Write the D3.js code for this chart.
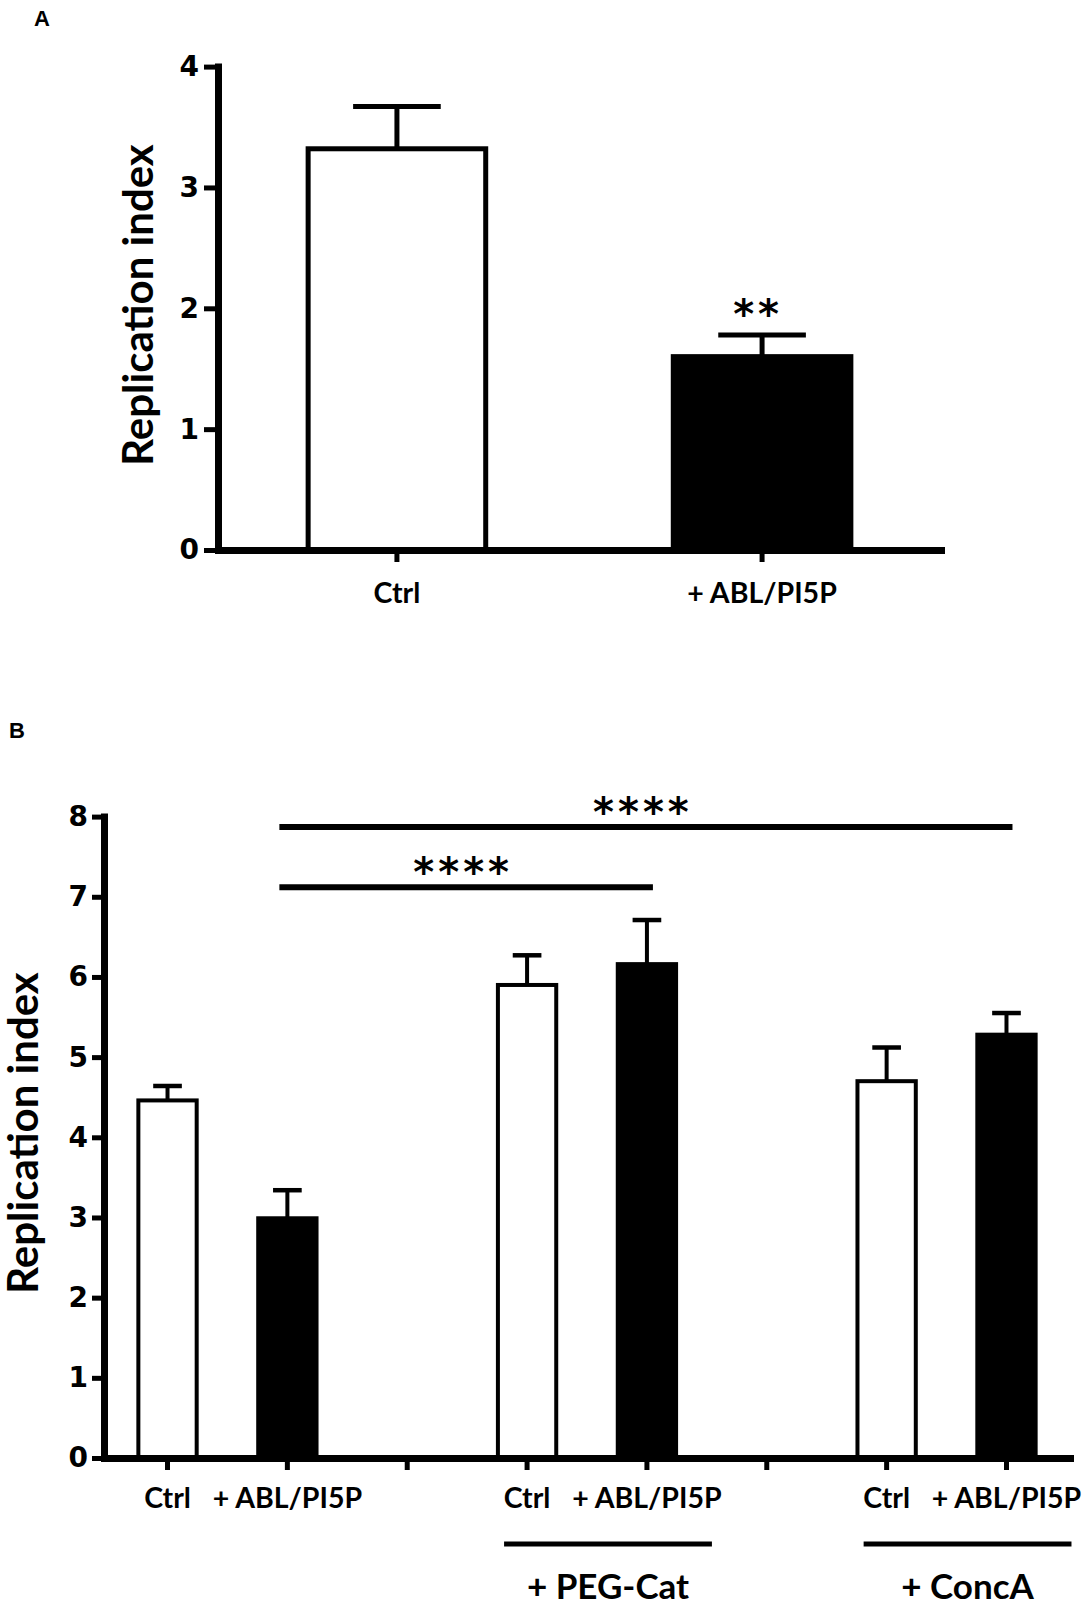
<!DOCTYPE html>
<html>
<head>
<meta charset="utf-8">
<script src="https://cdn.jsdelivr.net/npm/d3@7"></script>
<style>
  html, body { margin: 0; padding: 0; background: #fff; }
  svg { display: block; }
</style>
</head>
<body>
<svg id="fig" width="1082" height="1606"></svg>
<script>
// ---- data ----
// panel A
var catsA = ["Ctrl", "+ ABL/PI5P"];
var meansA = [3.32, 1.60];
var semA = [0.35, 0.18];
var ticksA = [0, 1, 2, 3, 4];
var starsA = ["", "**"];

// panel B (empty slots are the spacer columns between groups)
var catsB = ["Ctrl", "+ ABL/PI5P", "", "Ctrl", "+ ABL/PI5P", "", "Ctrl", "+ ABL/PI5P"];
var meansB = [4.46, 2.99, null, 5.90, 6.16, null, 4.70, 5.28];
var semB = [0.18, 0.35, null, 0.37, 0.55, null, 0.42, 0.27];
var ticksB = [0, 1, 2, 3, 4, 5, 6, 7, 8];
var groupLabelsB = ["+ PEG-Cat", "+ ConcA"];
var groupSpanB = [[3, 4], [6, 7]];
var sigPairsB = [[1, 4], [1, 7]];
var sigLevelB = [7.12, 7.87];
var sigTextB = ["****", "****"];

var svg = d3.select("#fig");
var labelFont = "Lato, 'Open Sans', sans-serif";
var tickFont = "'DejaVu Sans', Verdana, sans-serif";

function styleAxis(g, domainW, tickW) {
    g.attr("font-family", null).attr("font-size", null);
    g.select(".domain").attr("stroke-width", domainW).attr("stroke-linecap", "square");
    g.selectAll(".tick line").attr("stroke-width", tickW);
}

function yTitle(x, y) {
    svg.append("text")
        .attr("transform", `translate(${x},${y}) rotate(-90)`)
        .attr("text-anchor", "middle")
        .attr("font-family", labelFont)
        .attr("font-weight", 700)
        .attr("font-size", 42)
        .text("Replication index");
}

function stars(sel) {
    // asterisk marks; baseline is set by caller
    sel.attr("text-anchor", "middle")
        .attr("font-family", tickFont).attr("font-weight", 700)
        .attr("font-size", 40).attr("letter-spacing", 4);
}

// panel letters
svg.append("text").attr("x", 34).attr("y", 26)
    .attr("font-family", "'Liberation Sans', Arial, sans-serif").attr("font-weight", 700)
    .attr("font-size", 22).text("A");
svg.append("text").attr("x", 9).attr("y", 738)
    .attr("font-family", "'Liberation Sans', Arial, sans-serif").attr("font-weight", 700)
    .attr("font-size", 22).text("B");

// ================= panel A =================
(function () {
    var left = 218, right = 941, top = 66.6, bottom = 550;

    var x = d3.scaleBand().domain(d3.range(catsA.length))
        .range([left, right]).paddingInner(0.5).paddingOuter(0.24);
    var y = d3.scaleLinear().domain([0, 4]).range([bottom, top]);
    var bw = x.bandwidth();

    var bars = svg.append("g");
    var data = meansA.map((m, i) => ({i: i, m: m, e: semA[i], name: catsA[i]}));

    // error bars first so the bar outline sits over the stem
    bars.selectAll("line.stem").data(data).join("line")
        .attr("x1", d => x(d.i) + bw / 2).attr("x2", d => x(d.i) + bw / 2)
        .attr("y1", d => y(d.m)).attr("y2", d => y(d.m + d.e))
        .attr("stroke", "#000").attr("stroke-width", 5);
    bars.selectAll("line.cap").data(data).join("line")
        .attr("x1", d => x(d.i) + bw / 2 - bw * 0.24).attr("x2", d => x(d.i) + bw / 2 + bw * 0.24)
        .attr("y1", d => y(d.m + d.e)).attr("y2", d => y(d.m + d.e))
        .attr("stroke", "#000").attr("stroke-width", 5);

    bars.selectAll("rect").data(data).join("rect")
        .attr("x", d => x(d.i) + 2.5).attr("width", bw - 5)
        .attr("y", d => y(d.m)).attr("height", d => y(0) - y(d.m))
        .attr("fill", d => d.name === "Ctrl" ? "#fff" : "#000")
        .attr("stroke", "#000").attr("stroke-width", 5);

    svg.selectAll("text.starA").data(data).join("text")
        .attr("class", "starA")
        .attr("x", d => x(d.i) + bw / 2 - 4)
        .attr("y", d => y(d.m + d.e) - 7)
        .call(stars)
        .text((d, i) => starsA[i]);

    var yAxis = svg.append("g").attr("transform", `translate(${left},0)`)
        .call(d3.axisLeft(y).tickValues(ticksA).tickFormat(d3.format("d"))
            .tickSize(14).tickPadding(5).tickSizeOuter(0));
    styleAxis(yAxis, 7, 5);
    yAxis.selectAll("text").attr("font-family", tickFont).attr("font-weight", 700).attr("font-size", 28);

    var xAxis = svg.append("g").attr("transform", `translate(0,${bottom})`)
        .call(d3.axisBottom(x).tickFormat(i => catsA[i]).tickSize(12).tickPadding(21).tickSizeOuter(0));
    styleAxis(xAxis, 7, 5);
    xAxis.selectAll("text").attr("font-family", labelFont).attr("font-weight", 700).attr("font-size", 28.5);

    yTitle(153, 305);
})();

// ================= panel B =================
(function () {
    var left = 104, right = 1070, top = 816.6, bottom = 1458;

    var x = d3.scaleBand().domain(d3.range(catsB.length))
        .range([left, right]).paddingInner(0.48).paddingOuter(0.27);
    var y = d3.scaleLinear().domain([0, 8]).range([bottom, top]);
    var bw = x.bandwidth();
    var cx = i => x(i) + bw / 2;

    var data = meansB.map((m, i) => ({i: i, m: m, e: semB[i], name: catsB[i]}))
        .filter(d => d.m !== null);

    var bars = svg.append("g");
    bars.selectAll("line.stem").data(data).join("line")
        .attr("x1", d => cx(d.i)).attr("x2", d => cx(d.i))
        .attr("y1", d => y(d.m)).attr("y2", d => y(d.m + d.e))
        .attr("stroke", "#000").attr("stroke-width", 4);
    bars.selectAll("line.cap").data(data).join("line")
        .attr("x1", d => cx(d.i) - bw * 0.23).attr("x2", d => cx(d.i) + bw * 0.23)
        .attr("y1", d => y(d.m + d.e)).attr("y2", d => y(d.m + d.e))
        .attr("stroke", "#000").attr("stroke-width", 4.5);

    bars.selectAll("rect").data(data).join("rect")
        .attr("x", d => x(d.i) + 2).attr("width", bw - 4)
        .attr("y", d => y(d.m)).attr("height", d => y(0) - y(d.m))
        .attr("fill", d => d.name === "Ctrl" ? "#fff" : "#000")
        .attr("stroke", "#000").attr("stroke-width", 4);

    // significance brackets
    var sig = svg.append("g");
    sigPairsB.forEach(function (p, k) {
        sig.append("line")
            .attr("x1", cx(p[0]) - 8).attr("x2", cx(p[1]) + 6)
            .attr("y1", y(sigLevelB[k])).attr("y2", y(sigLevelB[k]))
            .attr("stroke", "#000").attr("stroke-width", 6);
        sig.append("text")
            .attr("x", (cx(p[0]) + cx(p[1])) / 2 - 4)
            .attr("y", y(sigLevelB[k]) - 1)
            .call(stars)
            .text(sigTextB[k]);
    });

    var yAxis = svg.append("g").attr("transform", `translate(${left},0)`)
        .call(d3.axisLeft(y).tickValues(ticksB).tickFormat(d3.format("d"))
            .tickSize(12).tickPadding(4).tickSizeOuter(0));
    styleAxis(yAxis, 7, 5);
    yAxis.selectAll("text").attr("font-family", tickFont).attr("font-weight", 700).attr("font-size", 28);

    var xAxis = svg.append("g").attr("transform", `translate(0,${bottom})`)
        .call(d3.axisBottom(x).tickFormat(i => catsB[i]).tickSize(12).tickPadding(18).tickSizeOuter(0));
    styleAxis(xAxis, 7, 5);
    xAxis.selectAll("text").attr("font-family", labelFont).attr("font-weight", 700).attr("font-size", 28.5);

    // treatment groups under the axis
    var grp = svg.append("g");
    groupSpanB.forEach(function (s, k) {
        var x0 = cx(s[0]) - 23, x1 = cx(s[1]) + 65;
        grp.append("line").attr("x1", x0).attr("x2", x1)
            .attr("y1", 1544).attr("y2", 1544)
            .attr("stroke", "#000").attr("stroke-width", 5);
        grp.append("text").attr("x", (x0 + x1) / 2).attr("y", 1599)
            .attr("text-anchor", "middle")
            .attr("font-family", labelFont).attr("font-weight", 700)
            .attr("font-size", 35)
            .text(groupLabelsB[k]);
    });

    yTitle(38, 1133);
})();
</script>
</body>
</html>
